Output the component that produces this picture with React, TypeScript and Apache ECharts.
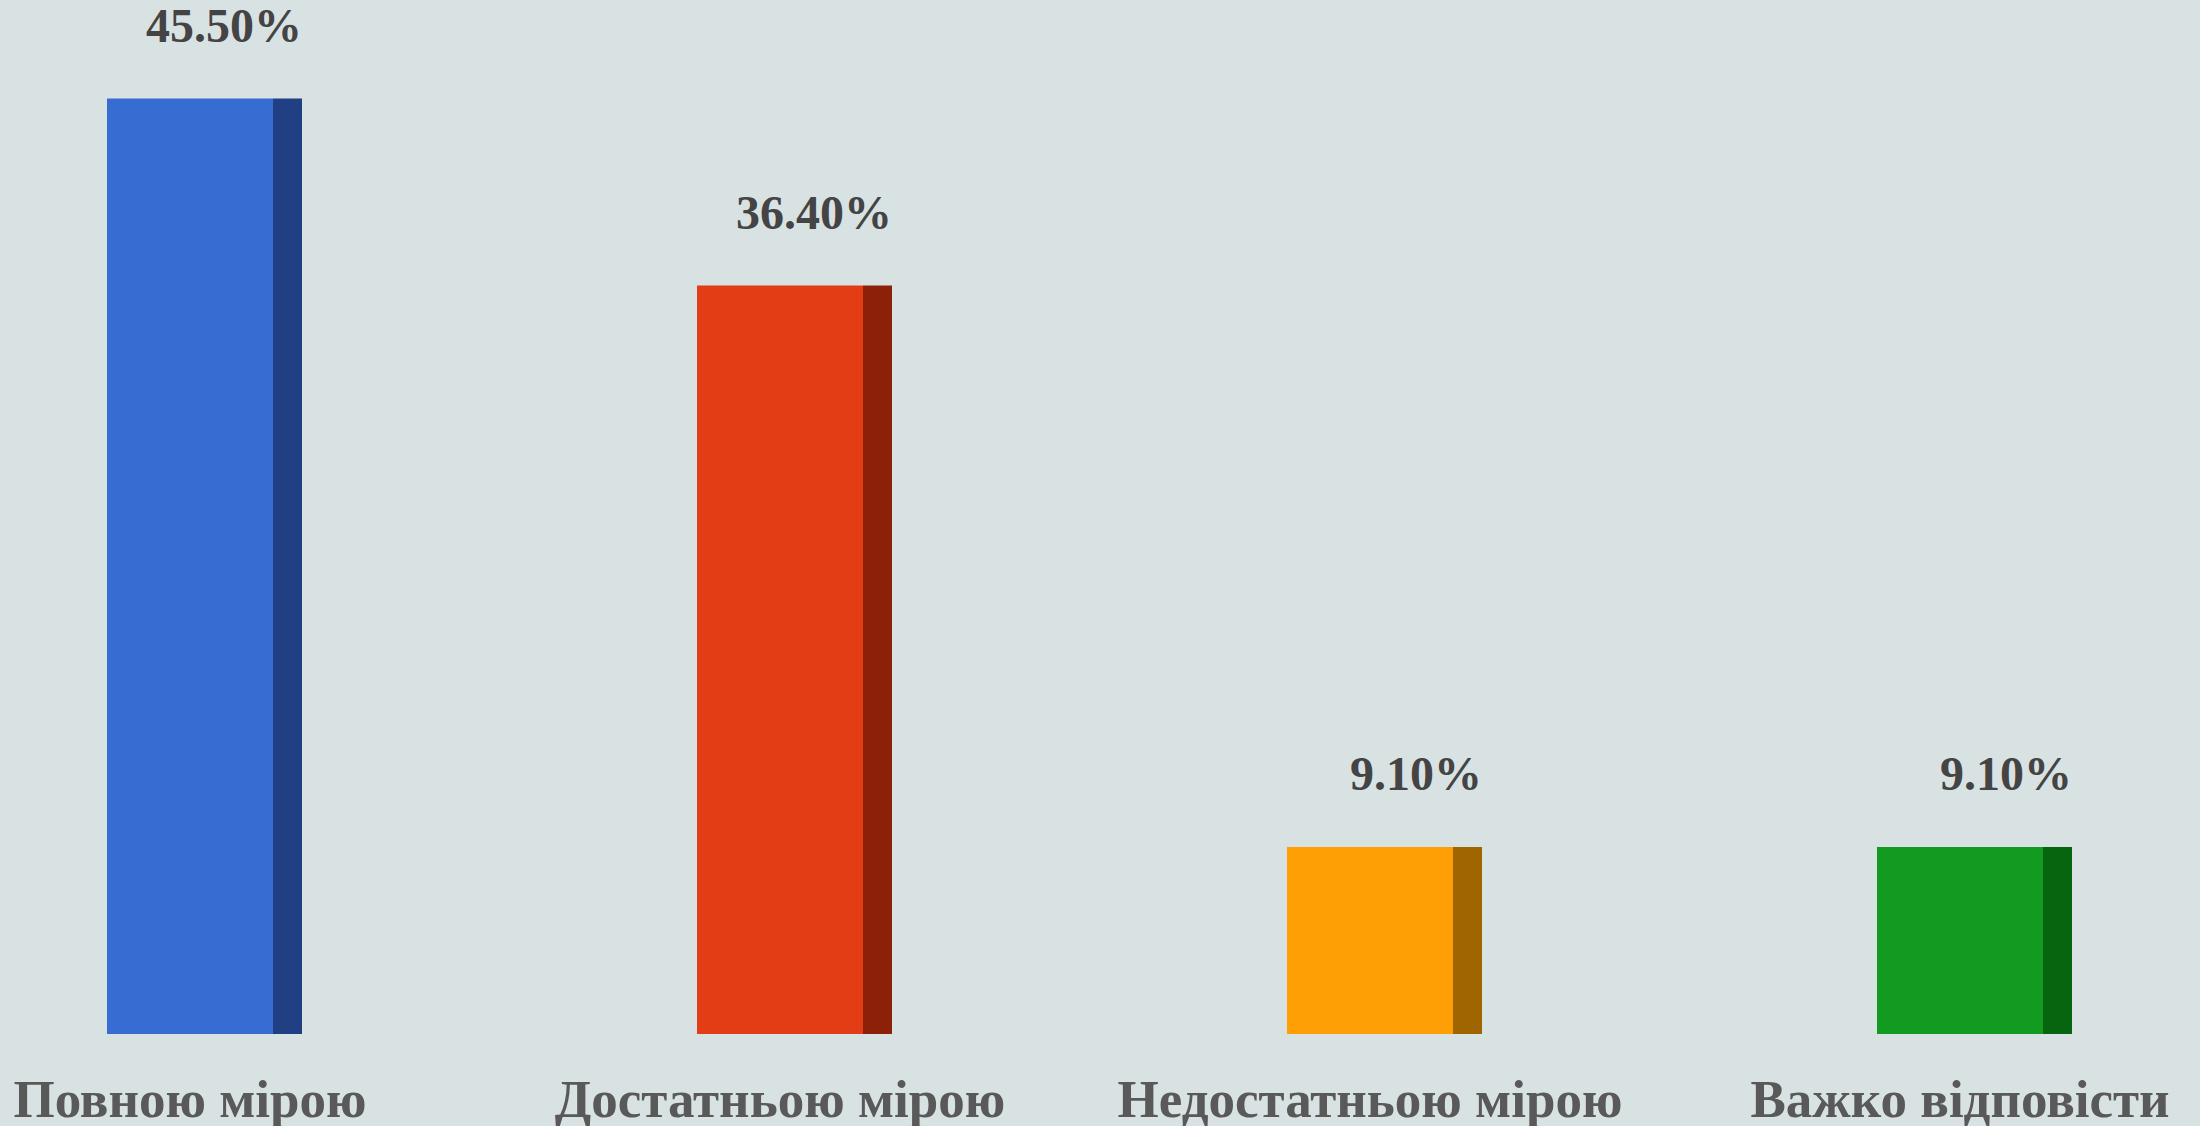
import React, { useEffect, useRef } from "react";
import * as echarts from "echarts";

const categories = ["Повною мірою", "Достатньою мірою", "Недостатньою мірою", "Важко відповісти"];
const values = [45.5, 36.4, 9.1, 9.1];
const frontColors = ["#376CD3", "#E33D16", "#FF9F06", "#139A21"];
const sideColors = ["#213F83", "#8C2008", "#A06500", "#06650F"];

const FRONT_W = 166;
const SIDE_W = 29;
const LABEL_MID_GAP = 73;

export default function App() {
  const ref = useRef<HTMLDivElement>(null);
  useEffect(() => {
    const chart = echarts.init(ref.current!, null, { renderer: "svg" });
    chart.setOption({
      animation: false,
      backgroundColor: "#D9E2E3",
      grid: { left: -105, right: -55, top: 6, bottom: 92, outerBoundsMode: "none", containLabel: false },
      xAxis: {
        type: "category",
        data: categories,
        axisLine: { show: false },
        axisTick: { show: false },
        axisLabel: {
          margin: 38,
          fontFamily: "Liberation Serif",
          fontWeight: "bold",
          fontSize: 53,
          lineHeight: 54,
          color: "#595959",
          interval: 0,
        },
      },
      yAxis: {
        type: "value",
        min: 0,
        max: 50,
        show: false,
        splitLine: { show: false },
      },
      series: [
        {
          type: "custom",
          data: values.map((v, i) => [i, v]),
          renderItem: (params: any, api: any) => {
            const i = api.value(0);
            const v = api.value(1);
            const top = api.coord([i, v]);
            const base = api.coord([i, 0]);
            const cx = top[0];
            const x0 = cx - FRONT_W / 2;
            const x1 = cx + FRONT_W / 2;
            const h = base[1] - top[1];
            return {
              type: "group",
              children: [
                {
                  type: "rect",
                  shape: { x: x0, y: top[1], width: FRONT_W, height: h },
                  style: { fill: frontColors[params.dataIndex] },
                },
                {
                  type: "rect",
                  shape: { x: x1, y: top[1], width: SIDE_W, height: h },
                  style: { fill: sideColors[params.dataIndex] },
                },
                {
                  type: "text",
                  x: x1 + SIDE_W,
                  y: top[1] - LABEL_MID_GAP,
                  style: {
                    text: v.toFixed(2) + "%",
                    align: "right",
                    verticalAlign: "middle",
                    fontFamily: "Liberation Serif",
                    fontWeight: "bold",
                    fontSize: 48,
                    fill: "#444444",
                  },
                },
              ],
            };
          },
        },
      ],
    });
    return () => chart.dispose();
  }, []);
  return (
    <div
      ref={ref}
      style={{ position: "fixed", left: 0, top: 0, width: 2200, height: 1126 }}
    />
  );
}
